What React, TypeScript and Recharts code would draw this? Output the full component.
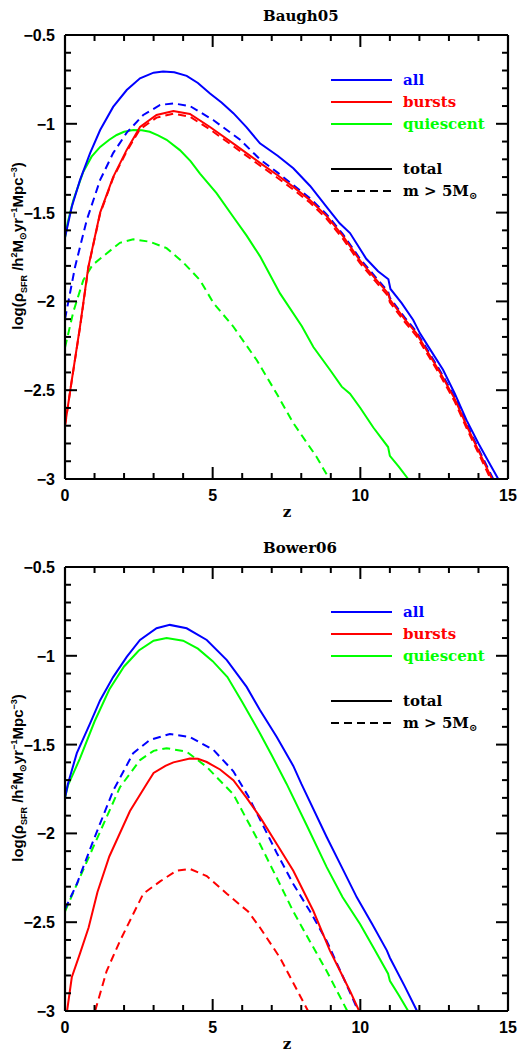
import React from 'react';
import { LineChart, Line, XAxis, YAxis } from 'recharts';

type Pt = [number, number];

// ---------- tick values ----------
const X_TICKS = [0, 1, 2, 3, 4, 5, 6, 7, 8, 9, 10, 11, 12, 13, 14, 15];
const Y_TICKS = [-3, -2.9, -2.8, -2.7, -2.6, -2.5, -2.4, -2.3, -2.2, -2.1, -2, -1.9, -1.8, -1.7, -1.6, -1.5, -1.4, -1.3, -1.2, -1.1, -1, -0.9, -0.8, -0.7, -0.6, -0.5];
const X_DOMAIN: [number, number] = [0, 15];
const Y_DOMAIN: [number, number] = [-3, -0.5];

// ---------- Baugh05 ----------
const baughAllTotal: Pt[] = [[0,-1.64],[0.23,-1.467],[0.51,-1.316],[0.85,-1.165],[1.19,-1.035],[1.63,-0.905],[2.09,-0.81],[2.54,-0.744],[3.0,-0.712],[3.32,-0.706],[3.7,-0.71],[4.12,-0.73],[4.5,-0.77],[4.91,-0.829],[5.3,-0.88],[5.7,-0.94],[6.15,-1.02],[6.6,-1.11],[7.2,-1.18],[7.73,-1.25],[8.3,-1.35],[8.87,-1.47],[9.3,-1.56],[9.65,-1.615],[10.2,-1.76],[10.6,-1.83],[10.95,-1.875],[11.02,-1.93],[11.4,-2.01],[11.79,-2.105],[12.02,-2.18],[12.4,-2.28],[12.8,-2.385],[13.2,-2.52],[13.6,-2.67],[14.0,-2.8],[14.3,-2.89],[14.67,-3.0]];
const baughAllM5: Pt[] = [[0,-2.1],[0.34,-1.806],[0.74,-1.54],[1.19,-1.316],[1.63,-1.165],[2.09,-1.05],[2.65,-0.95],[3.22,-0.894],[3.67,-0.885],[4.23,-0.9],[5.03,-0.98],[5.93,-1.09],[6.6,-1.2],[7.2,-1.275],[7.73,-1.345],[8.3,-1.42],[8.86,-1.51],[9.4,-1.62],[9.99,-1.76],[10.5,-1.86],[10.94,-1.945],[11.0,-1.98],[11.5,-2.09],[11.9,-2.17],[12.3,-2.28],[12.7,-2.39],[13.2,-2.54],[13.6,-2.69],[14.0,-2.83],[14.5,-3.0]];
const baughBurstTotal: Pt[] = [[0,-2.7],[0.23,-2.443],[0.51,-2.14],[0.79,-1.806],[1.19,-1.5],[1.63,-1.3],[2.09,-1.147],[2.54,-1.018],[3.1,-0.95],[3.67,-0.928],[4.23,-0.945],[4.91,-1.018],[5.69,-1.11],[6.6,-1.22],[7.2,-1.29],[7.73,-1.355],[8.3,-1.43],[8.86,-1.52],[9.4,-1.63],[9.99,-1.77],[10.5,-1.87],[10.94,-1.955],[11.0,-1.99],[11.5,-2.1],[11.9,-2.18],[12.3,-2.29],[12.7,-2.4],[13.2,-2.55],[13.6,-2.7],[14.0,-2.84],[14.46,-3.0]];
const baughBurstM5: Pt[] = [[0,-2.7],[0.23,-2.445],[0.51,-2.145],[0.79,-1.81],[1.19,-1.505],[1.63,-1.305],[2.09,-1.155],[2.54,-1.03],[3.1,-0.965],[3.67,-0.943],[4.23,-0.96],[4.91,-1.032],[5.69,-1.125],[6.6,-1.235],[7.2,-1.305],[7.73,-1.37],[8.3,-1.445],[8.86,-1.535],[9.4,-1.645],[9.99,-1.785],[10.5,-1.885],[10.94,-1.97],[11.0,-2.005],[11.5,-2.115],[11.9,-2.195],[12.3,-2.305],[12.7,-2.415],[13.2,-2.565],[13.6,-2.715],[14.0,-2.855],[14.41,-3.0]];
const baughQuiTotal: Pt[] = [[0,-1.64],[0.1,-1.55],[0.28,-1.43],[0.62,-1.27],[0.9,-1.185],[1.19,-1.13],[1.5,-1.09],[1.75,-1.063],[2.0,-1.045],[2.31,-1.035],[2.6,-1.037],[2.87,-1.045],[3.15,-1.065],[3.44,-1.09],[3.89,-1.148],[4.25,-1.21],[4.57,-1.28],[5.13,-1.39],[5.7,-1.525],[6.15,-1.63],[6.6,-1.745],[7.28,-1.955],[8.02,-2.14],[8.41,-2.257],[8.97,-2.385],[9.37,-2.48],[9.65,-2.52],[10.0,-2.6],[10.44,-2.71],[10.94,-2.82],[11.0,-2.87],[11.3,-2.93],[11.62,-3.0]];
const baughQuiM5: Pt[] = [[0,-2.26],[0.28,-2.06],[0.62,-1.88],[0.93,-1.795],[1.41,-1.73],[1.86,-1.67],[2.31,-1.65],[2.87,-1.664],[3.44,-1.7],[4.0,-1.78],[4.57,-1.88],[5.03,-2.01],[5.69,-2.14],[6.49,-2.33],[7.17,-2.52],[7.73,-2.685],[8.52,-2.876],[8.95,-3.0]];

// ---------- Bower06 ----------
const bowerAllTotal: Pt[] = [[0,-1.8],[0.1,-1.72],[0.4,-1.548],[0.85,-1.38],[1.19,-1.25],[1.63,-1.12],[2.09,-1.006],[2.54,-0.911],[3.1,-0.845],[3.55,-0.826],[4.12,-0.845],[4.8,-0.911],[5.48,-1.024],[6.15,-1.175],[6.6,-1.305],[7.17,-1.457],[7.73,-1.62],[8.0,-1.72],[8.86,-2.02],[9.4,-2.2],[9.88,-2.36],[10.4,-2.51],[10.9,-2.66],[11.0,-2.7],[11.5,-2.86],[11.92,-3.0]];
const bowerAllM5: Pt[] = [[0,-2.426],[0.4,-2.285],[0.96,-2.04],[1.63,-1.76],[2.31,-1.548],[2.87,-1.474],[3.55,-1.44],[4.23,-1.457],[5.03,-1.53],[5.7,-1.65],[6.2,-1.79],[6.6,-1.92],[7.17,-2.11],[7.73,-2.285],[8.3,-2.44],[8.86,-2.605],[9.42,-2.81],[9.93,-3.0]];
const bowerBurstTotal: Pt[] = [[0.07,-3.0],[0.23,-2.81],[0.5,-2.68],[0.8,-2.53],[1.1,-2.33],[1.5,-2.13],[2.2,-1.874],[2.77,-1.72],[3.0,-1.66],[3.4,-1.62],[3.67,-1.6],[4.23,-1.578],[4.5,-1.58],[4.8,-1.598],[5.25,-1.64],[5.7,-1.7],[6.15,-1.8],[6.6,-1.907],[7.17,-2.06],[7.73,-2.21],[8.41,-2.437],[8.97,-2.66],[9.65,-2.887],[9.96,-3.0]];
const bowerBurstM5: Pt[] = [[1.02,-3.0],[1.41,-2.775],[1.86,-2.606],[2.31,-2.454],[2.65,-2.34],[3.22,-2.27],[3.78,-2.21],[4.23,-2.2],[4.8,-2.24],[5.48,-2.34],[6.2,-2.44],[6.6,-2.53],[7.28,-2.7],[8.23,-3.0]];
const bowerQuiTotal: Pt[] = [[0,-1.8],[0.1,-1.73],[0.5,-1.58],[1.0,-1.37],[1.5,-1.19],[2.0,-1.06],[2.5,-0.97],[3.0,-0.915],[3.44,-0.9],[4.0,-0.915],[4.5,-0.96],[5.0,-1.03],[5.5,-1.12],[6.0,-1.26],[6.6,-1.436],[7.0,-1.56],[7.5,-1.72],[8.2,-1.96],[8.86,-2.19],[9.4,-2.36],[9.99,-2.51],[10.5,-2.66],[10.94,-2.79],[11.0,-2.83],[11.3,-2.91],[11.62,-3.0]];
const bowerQuiM5: Pt[] = [[0,-2.44],[0.51,-2.245],[1.19,-1.99],[1.86,-1.74],[2.54,-1.587],[3.0,-1.535],[3.44,-1.52],[4.12,-1.54],[4.8,-1.626],[5.7,-1.78],[6.6,-2.06],[7.17,-2.25],[7.73,-2.44],[8.3,-2.61],[8.86,-2.775],[9.56,-3.0]];

const BLUE = '#0000ff';
const RED = '#ff0000';
const GREEN = '#00ff00';

const TICK_FONT = '"Liberation Sans", Arial, sans-serif';
const SERIF_FONT = '"DejaVu Serif", serif';

const toData = (pts: Pt[]) => pts.map(([z, v]) => ({ z, v }));
const isMajorX = (v: number) => Math.abs(v % 5) < 1e-6;
const isMajorY = (v: number) => Math.abs(v * 2 - Math.round(v * 2)) < 1e-6;
const fmtY = (v: number) => (v < 0 ? '\u2212' : '') + String(Math.abs(v));

function BottomTick(props: any) {
  const { x, y, payload } = props;
  const v = payload.value as number;
  const maj = isMajorX(v);
  return (
    <g>
      <line x1={x} x2={x} y1={y} y2={y - (maj ? 12 : 6)} stroke="#000" strokeWidth={2} />
      {maj ? (
        <text x={x} y={y + 22} textAnchor="middle" fontFamily={TICK_FONT} fontSize={16} fontWeight={700} fill="#000">
          {v}
        </text>
      ) : null}
    </g>
  );
}
function LeftTick(props: any) {
  const { x, y, payload } = props;
  const v = payload.value as number;
  const maj = isMajorY(v);
  return (
    <g>
      <line x1={x} x2={x + (maj ? 12 : 6)} y1={y} y2={y} stroke="#000" strokeWidth={2} />
      {maj ? (
        <text x={x - 10} y={y + 6} textAnchor="end" fontFamily={TICK_FONT} fontSize={16} fontWeight={700} fill="#000">
          {fmtY(v)}
        </text>
      ) : null}
    </g>
  );
}

type Series = { key: string; pts: Pt[]; color: string; dashed: boolean };

const W = 520;
const H = 527;
const PLOT_LEFT = 65;
const PLOT_RIGHT = 508;
const PLOT_H = 444;
const AXIS_LINE = { stroke: '#000', strokeWidth: 2.2 };

function Panel({ title, series, plotTop }: { title: string; series: Series[]; plotTop: number }) {
  const bottomAxisH = H - plotTop - PLOT_H;
  const plotBottom = plotTop + PLOT_H;
  const cy = plotTop + PLOT_H / 2 - 11;
  const lx1 = 331;
  const lx2 = 392;
  const tx = 403;
  const legendRows = [
    { label: 'all', color: BLUE, dy: 45 },
    { label: 'bursts', color: RED, dy: 67 },
    { label: 'quiescent', color: GREEN, dy: 89 },
  ];
  const xPix = (v: number) => PLOT_LEFT + ((v - X_DOMAIN[0]) / (X_DOMAIN[1] - X_DOMAIN[0])) * (PLOT_RIGHT - PLOT_LEFT);
  const yPix = (v: number) => plotBottom - ((v - Y_DOMAIN[0]) / (Y_DOMAIN[1] - Y_DOMAIN[0])) * PLOT_H;
  const tickSegs: { k: string; x1: number; y1: number; x2: number; y2: number }[] = [];
  X_TICKS.forEach((v) => {
    const px = xPix(v);
    const len = isMajorX(v) ? 12 : 6;
    tickSegs.push({ k: 'xt' + v, x1: px, y1: plotTop, x2: px, y2: plotTop + len });
  });
  Y_TICKS.forEach((v) => {
    const py = yPix(v);
    const len = isMajorY(v) ? 12 : 6;
    tickSegs.push({ k: 'yr' + v, x1: PLOT_RIGHT, y1: py, x2: PLOT_RIGHT - len, y2: py });
  });
  return (
    <div style={{ position: 'relative', width: W, height: H }}>
      <LineChart width={W} height={H} margin={{ top: plotTop - 1, right: 0, bottom: 0, left: 0 }}>
        <XAxis
          dataKey="z"
          type="number"
          domain={X_DOMAIN}
          ticks={X_TICKS}
          interval={0}
          height={bottomAxisH}
          tickSize={0}
          tickMargin={0}
          tickLine={false}
          axisLine={AXIS_LINE}
          tick={<BottomTick />}
        />
        <XAxis
          xAxisId="top"
          orientation="top"
          dataKey="z"
          type="number"
          domain={X_DOMAIN}
          height={1}
          tick={false}
          tickLine={false}
          axisLine={AXIS_LINE}
        />
        <YAxis
          type="number"
          domain={Y_DOMAIN}
          ticks={Y_TICKS}
          interval={0}
          width={PLOT_LEFT}
          tickSize={0}
          tickMargin={0}
          tickLine={false}
          axisLine={AXIS_LINE}
          tick={<LeftTick />}
        />
        <YAxis
          yAxisId="right"
          orientation="right"
          type="number"
          domain={Y_DOMAIN}
          width={W - PLOT_RIGHT}
          tick={false}
          tickLine={false}
          axisLine={AXIS_LINE}
        />
        {series.map((s) => (
          <Line
            key={s.key}
            data={toData(s.pts)}
            dataKey="v"
            type="linear"
            stroke={s.color}
            strokeWidth={2}
            strokeDasharray={s.dashed ? '8 5' : undefined}
            dot={false}
            activeDot={false}
            isAnimationActive={false}
          />
        ))}
      </LineChart>
      <svg width={W} height={H} style={{ position: 'absolute', left: 0, top: 0, pointerEvents: 'none' }}>
        {tickSegs.map((t) => (
          <line key={t.k} x1={t.x1} y1={t.y1} x2={t.x2} y2={t.y2} stroke="#000" strokeWidth={2} />
        ))}
        <text x={263} y={plotTop - 14} fontFamily={SERIF_FONT} fontWeight={700} fontSize={15} fill="#000">
          {title}
        </text>
        <text x={287} y={plotBottom + 38} textAnchor="middle" fontFamily={SERIF_FONT} fontWeight={700} fontSize={15} fill="#000">
          z
        </text>
        <text
          transform={`translate(23, ${cy}) rotate(-90)`}
          textAnchor="middle"
          fontFamily={TICK_FONT}
          fontWeight={700}
          fontSize={15}
          fill="#000"
        >
          log(ρ
          <tspan fontSize={9} dy={4}>SFR</tspan>
          <tspan dy={-4}>{'  /h'}</tspan>
          <tspan fontSize={9} dy={-6}>2</tspan>
          <tspan dy={6}>M</tspan>
          <tspan fontSize={9} dy={3}>⊙</tspan>
          <tspan dy={-3}>yr</tspan>
          <tspan fontSize={9} dy={-6}>−1</tspan>
          <tspan dy={6}>Mpc</tspan>
          <tspan fontSize={9} dy={-6}>−3</tspan>
          <tspan dy={6}>)</tspan>
        </text>
        {legendRows.map((r) => (
          <g key={r.label}>
            <line x1={lx1} x2={lx2} y1={plotTop + r.dy} y2={plotTop + r.dy} stroke={r.color} strokeWidth={2} />
            <text x={tx} y={plotTop + r.dy + 5} fontFamily={SERIF_FONT} fontWeight={700} fontSize={15} fill={r.color}>
              {r.label}
            </text>
          </g>
        ))}
        <line x1={lx1} x2={lx2} y1={plotTop + 134} y2={plotTop + 134} stroke="#000" strokeWidth={2} />
        <text x={tx} y={plotTop + 139} fontFamily={SERIF_FONT} fontWeight={700} fontSize={15} fill="#000">
          total
        </text>
        <line x1={lx1} x2={lx2} y1={plotTop + 156} y2={plotTop + 156} stroke="#000" strokeWidth={2} strokeDasharray="8 5" />
        <text x={tx} y={plotTop + 161} fontFamily={SERIF_FONT} fontWeight={700} fontSize={15} fill="#000" xmlSpace="preserve">
          {'m > 5M'}
          <tspan fontSize={10} dy={3}>⊙</tspan>
        </text>
      </svg>
    </div>
  );
}

const baughSeries: Series[] = [
  { key: 'qm5', pts: baughQuiM5, color: GREEN, dashed: true },
  { key: 'qt', pts: baughQuiTotal, color: GREEN, dashed: false },
  { key: 'am5', pts: baughAllM5, color: BLUE, dashed: true },
  { key: 'at', pts: baughAllTotal, color: BLUE, dashed: false },
  { key: 'bm5', pts: baughBurstM5, color: RED, dashed: true },
  { key: 'bt', pts: baughBurstTotal, color: RED, dashed: false },
];
const bowerSeries: Series[] = [
  { key: 'qm5', pts: bowerQuiM5, color: GREEN, dashed: true },
  { key: 'qt', pts: bowerQuiTotal, color: GREEN, dashed: false },
  { key: 'am5', pts: bowerAllM5, color: BLUE, dashed: true },
  { key: 'at', pts: bowerAllTotal, color: BLUE, dashed: false },
  { key: 'bm5', pts: bowerBurstM5, color: RED, dashed: true },
  { key: 'bt', pts: bowerBurstTotal, color: RED, dashed: false },
];

export default function App() {
  return (
    <div style={{ position: 'absolute', left: 0, top: 0, width: W, height: 2 * H }}>
      <Panel title="Baugh05" series={baughSeries} plotTop={35} />
      <Panel title="Bower06" series={bowerSeries} plotTop={40} />
    </div>
  );
}
